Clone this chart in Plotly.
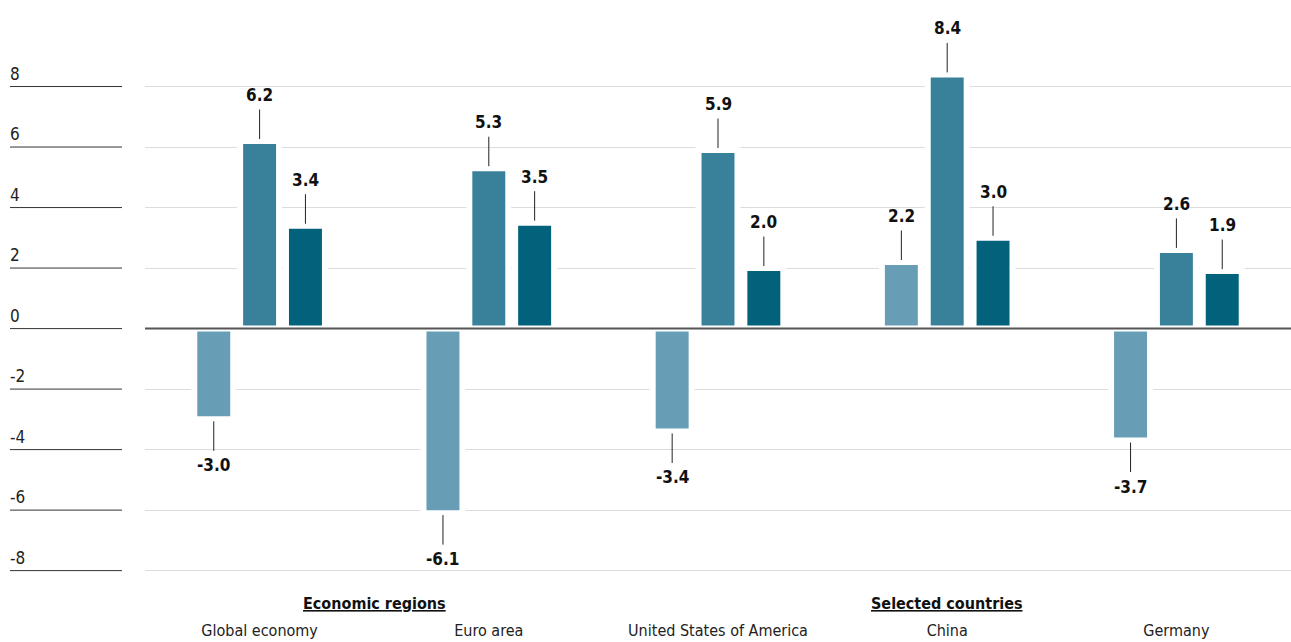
import plotly.graph_objects as go

# Real GDP growth, % change on previous year
categories = ["Global economy", "Euro area", "United States of America", "China", "Germany"]
growth_2020 = [-3.0, -6.1, -3.4, 2.2, -3.7]
growth_2021 = [6.2, 5.3, 5.9, 8.4, 2.6]
growth_2022 = [3.4, 3.5, 2.0, 3.0, 1.9]
series_names = ["2020", "2021", "2022"]
series_colors = ["#679eb6", "#39819b", "#02627b"]

y_ticks = [-8, -6, -4, -2, 0, 2, 4, 6, 8]
group_labels = [("Economic regions", 0.5), ("Selected countries", 3)]

FONT = "DejaVu Sans Condensed, Liberation Sans Narrow, sans-serif"
W, H = 1291, 642
ML, MB = 145, 62
PLOT_W = W - ML
BARGAP = 0.4

fig = go.Figure()
all_series = [growth_2020, growth_2021, growth_2022]
for name, vals, col in zip(series_names, all_series, series_colors):
    fig.add_trace(go.Bar(
        x=categories, y=vals, name=name,
        marker=dict(color=col, line=dict(color="white", width=6)),
        hoverinfo="skip",
    ))

# value labels with leader lines
slot = (1 - BARGAP) / len(all_series)
annotations = []
for si, vals in enumerate(all_series):
    offset = (si - 1) * slot
    for ci, v in enumerate(vals):
        annotations.append(dict(
            x=ci + offset, y=v, xref="x", yref="y",
            text=f"<b>{v:.1f}</b>",
            showarrow=True, arrowhead=0, arrowwidth=1, arrowcolor="#222",
            ax=0, ay=-46 if v >= 0 else 46, standoff=2, borderpad=4,
            font=dict(family=FONT, size=17, color="#111"),
        ))

# y tick labels on the left, sitting above short rules
shapes = []
for t in y_ticks:
    annotations.append(dict(
        x=(8 - ML) / PLOT_W, y=t, xref="paper", yref="y",
        text=str(t), showarrow=False, xanchor="left", yanchor="middle",
        yshift=13, font=dict(family=FONT, size=17, color="#222"),
    ))
    shapes.append(dict(
        type="line", xref="paper", yref="y",
        x0=(10 - ML) / PLOT_W, x1=(122 - ML) / PLOT_W, y0=t, y1=t,
        line=dict(color="#333", width=1),
    ))

# zero line drawn over the bars
shapes.append(dict(
    type="line", xref="paper", yref="y", x0=0, x1=1, y0=0, y1=0,
    line=dict(color="#555", width=2), layer="above",
))

for label, pos in group_labels:
    annotations.append(dict(
        x=pos, y=0, xref="x", yref="paper", yshift=-23,
        text=f"<b><u>{label}</u></b>", showarrow=False,
        xanchor="center", yanchor="middle",
        font=dict(family=FONT, size=16, color="#111"),
    ))

fig.update_layout(
    width=W, height=H,
    margin=dict(l=ML, r=0, t=0, b=MB, autoexpand=False),
    plot_bgcolor="white", paper_bgcolor="white",
    barmode="group", bargap=BARGAP, bargroupgap=0.15,
    showlegend=False,
    font=dict(family=FONT, size=17, color="#222"),
    annotations=annotations, shapes=shapes,
    xaxis=dict(
        type="category", showgrid=False, zeroline=False, showline=False,
        ticks="outside", ticklen=36, tickcolor="rgba(0,0,0,0)",
        tickfont=dict(family=FONT, size=16, color="#222"),
        automargin=False,
    ),
    yaxis=dict(
        range=[-8.31, 10.86], tickvals=y_ticks, showticklabels=False,
        showgrid=True, gridcolor="#dcdcdc", gridwidth=1,
        zeroline=False, showline=False, automargin=False,
    ),
)

fig.write_html("out.html")
